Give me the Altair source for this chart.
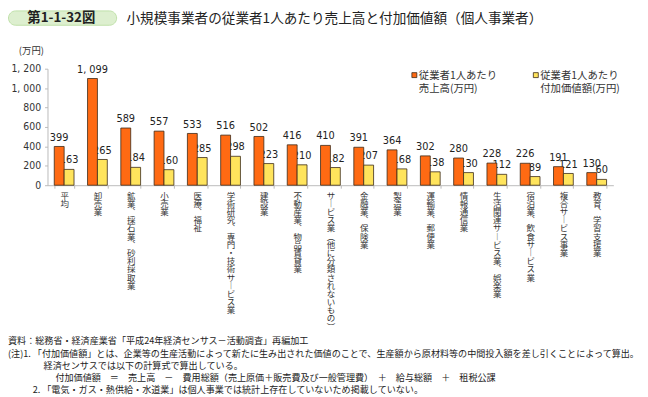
import altair as alt
import pandas as pd

# ---- data ----
categories = [
    "平均", "卸売業", "鉱業、　採石業、砂利採取業", "小売業", "医療、福祉",
    "学術研究、　専門・技術サービス業", "建設業", "不動産業、物品賃貸業",
    "サービス業（他に分類されないもの）", "金融業、保険業", "製造業", "運輸業、郵便業",
    "情報通信業", "生活関連サービス業、　娯楽業", "宿泊業、飲食サービス業",
    "複合サービス事業", "教育、学習支援業",
]
sales = [399, 1099, 589, 557, 533, 516, 502, 416, 410, 391, 364, 302, 280, 228, 226, 191, 130]
value_added = [163, 265, 184, 160, 285, 298, 223, 210, 182, 207, 168, 138, 130, 112, 89, 121, 60]
series_names = ["従業者1人あたり売上高(万円)", "従業者1人あたり付加価値額(万円)"]
series_colors = ["#FF6A13", "#FFE45C"]
y_ticks = [0, 200, 400, 600, 800, 1000, 1200]

JP = "Noto Sans CJK JP"
NARROW = "Liberation Sans Narrow, Arial Narrow, DejaVu Sans Condensed, sans-serif"

# vertical presentation forms for stacked labels
vert = str.maketrans({"、": "︑", "ー": "︱", "（": "︵", "）": "︶"})
vcats = [c.translate(vert) for c in categories]

rows = []
for c, v, s, a in zip(categories, vcats, sales, value_added):
    for name, val in zip(series_names, [s, a]):
        rows.append({"cat": v, "series": name, "value": val,
                     "label": f"{val:,}".replace(",", ", ")})
df = pd.DataFrame(rows)

base = alt.Chart(df).encode(
    x=alt.X("cat:N", sort=vcats,
            scale=alt.Scale(paddingInner=0.406, paddingOuter=0.203),
            axis=alt.Axis(title=None, labelAngle=0, labelExpr="split(datum.label, '')",
                          labelFont=JP, labelFontSize=8.6, labelLineHeight=8.3,
                          labelBaseline="top", labelAlign="center", labelPadding=3,
                          labelColor="#333", labelLimit=0,
                          tickBand="extent", tickSize=3, tickColor="#bbb",
                          domainColor="#bbb")),
    xOffset=alt.XOffset("series:N", sort=series_names,
                        scale=alt.Scale(paddingInner=0, paddingOuter=0)),
    y=alt.Y("value:Q", scale=alt.Scale(domain=[0, 1200], nice=False),
            axis=alt.Axis(title=None, values=y_ticks, grid=False,
                          labelExpr="replace(format(datum.value, ','), ',', ', ')",
                          labelFont=NARROW, labelFontSize=10.5, labelColor="#333",
                          labelPadding=4, tickSize=3, tickColor="#bbb",
                          domainColor="#bbb")),
)

bars = base.mark_bar(stroke="#3a2a1a", strokeWidth=0.8).encode(
    color=alt.Color("series:N", scale=alt.Scale(domain=series_names, range=series_colors),
                    legend=None)
)
txt_kw = dict(baseline="bottom", dy=-4, font=NARROW, fontSize=11, color="#222")
lbl_yellow = base.mark_text(**txt_kw).encode(text="label:N").transform_filter(
    alt.datum.series == series_names[1])
lbl_orange = base.mark_text(**txt_kw).encode(text="label:N").transform_filter(
    alt.datum.series == series_names[0])

one = pd.DataFrame({"a": [0]})


def note(x, y, s, size, align="left", font=JP, **kw):
    return alt.Chart(one).mark_text(align=align, baseline="middle", font=font,
                                    fontSize=size, color=kw.pop("color", "#222"), **kw).encode(
        x=alt.value(x), y=alt.value(y), text=alt.value(s))


def box(x, x2, y, y2, fill, stroke, **kw):
    return alt.Chart(one).mark_rect(fill=fill, stroke=stroke, **kw).encode(
        x=alt.value(x), x2=alt.value(x2), y=alt.value(y), y2=alt.value(y2))


layers = [
    box(-39.5, 70, -58.5, -44, "#DDEFCF", "#BEDFA8", cornerRadius=8, strokeWidth=1),
    note(14, -51, "第1-1-32図", 13.5, align="center", color="#222", fontWeight="bold"),
    note(80, -50.5, "小規模事業者の従業者1人あたり売上高と付加価値額（個人事業者）", 13.8),
    note(-29, -18, "(万円)", 9.5, color="#333"),
    box(369, 374, 4, 9, series_colors[0], "#3a2a1a", strokeWidth=0.8),
    note(376, 7, "従業者1人あたり", 10.5, color="#333"),
    note(376, 21, "売上高(万円)", 10.5, color="#333"),
    box(492, 497, 4, 9, series_colors[1], "#3a2a1a", strokeWidth=0.8),
    note(499, 7, "従業者1人あたり", 10.5, color="#333"),
    note(499, 21, "付加価値額(万円)", 10.5, color="#333"),
    note(-40, 276, "資料：総務省・経済産業省「平成24年経済センサス－活動調査」再編加工", 9.2),
    note(-40, 289, "(注)1. 「付加価値額」とは、企業等の生産活動によって新たに生み出された価値のことで、生産額から原材料等の中間投入額を差し引くことによって算出。", 9.2),
    note(-4, 301, "経済センサスでは以下の計算式で算出している。", 9.2),
    note(8, 313, "付加価値額　＝　売上高　－　費用総額（売上原価＋販売費及び一般管理費）　＋　給与総額　＋　租税公課", 9.2),
    note(-15, 325, "2. 「電気・ガス・熱供給・水道業」は個人事業では統計上存在していないため掲載していない。", 9.2),
    lbl_yellow, bars, lbl_orange,
]

chart = alt.layer(*layers).properties(
    width=573, height=118,
    padding={"left": 40, "top": 59, "right": 27, "bottom": 212},
    autosize=alt.AutoSizeParams(type="none"),
).configure_view(stroke=None)

chart.save("out.html", embed_options={"renderer": "svg", "actions": False})
